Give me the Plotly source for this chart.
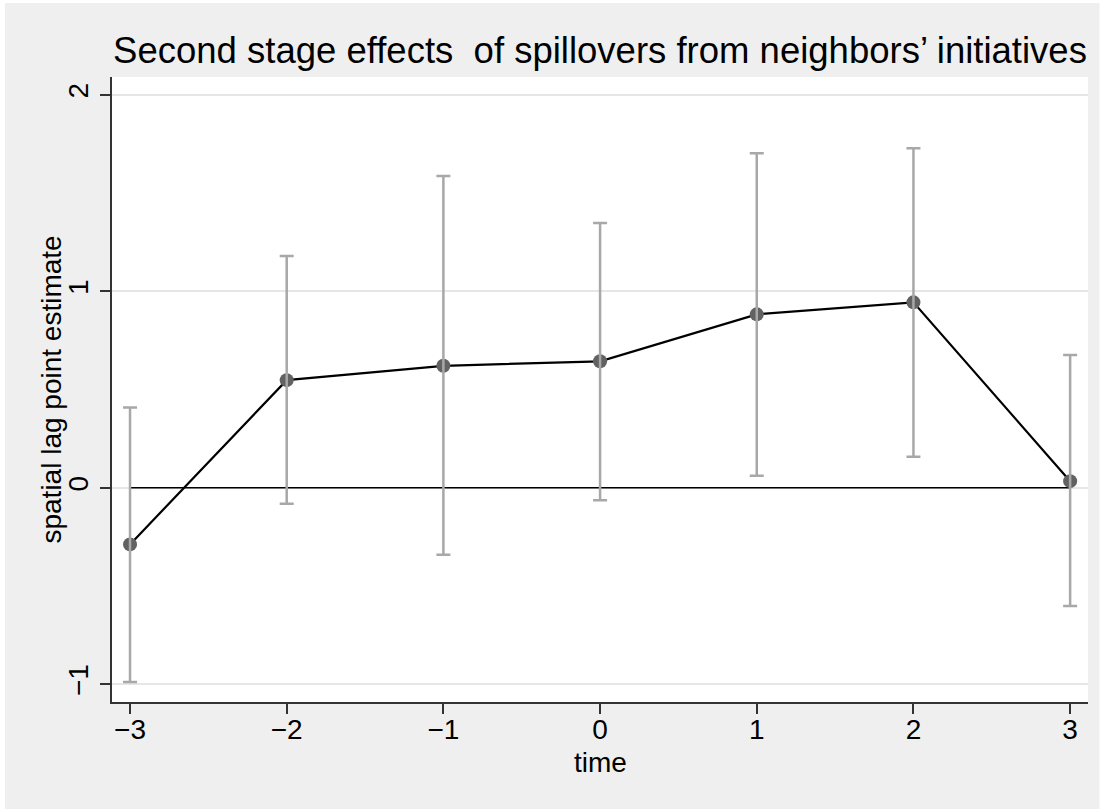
import plotly.graph_objects as go

time = [-3, -2, -1, 0, 1, 2, 3]
estimate = [-0.288, 0.548, 0.621, 0.644, 0.883, 0.944, 0.034]
ci_high = [0.409, 1.180, 1.587, 1.348, 1.703, 1.728, 0.676]
ci_low = [-0.988, -0.081, -0.341, -0.063, 0.061, 0.158, -0.602]
zero_line = [0, 0, 0, 0, 0, 0, 0]
x_ticks = [-3, -2, -1, 0, 1, 2, 3]
y_ticks = [-1, 0, 1, 2]

title_text = "Second stage effects  of spillovers from neighbors\u2019 initiatives"
x_title = "time"
y_title = "spatial lag point estimate"

err_plus = [h - e for h, e in zip(ci_high, estimate)]
err_minus = [e - l for e, l in zip(estimate, ci_low)]

FONT = "Liberation Sans, Arial, Helvetica, sans-serif"
PLOT_L, PLOT_R, PLOT_T, PLOT_B = 112, 1088.5, 77, 701.7
PW, PH = PLOT_R - PLOT_L, PLOT_B - PLOT_T

fig = go.Figure()

# zero reference line
fig.add_trace(go.Scatter(x=time, y=zero_line, mode="lines",
                         line=dict(color="black", width=1.5),
                         hoverinfo="skip", showlegend=False))
# connecting line + markers
fig.add_trace(go.Scatter(x=time, y=estimate, mode="lines+markers",
                         line=dict(color="black", width=2.2),
                         marker=dict(color="#626262", size=14),
                         showlegend=False))
# confidence intervals on top
fig.add_trace(go.Scatter(x=time, y=estimate, mode="markers",
                         marker=dict(size=1, opacity=0),
                         error_y=dict(type="data", symmetric=False,
                                      array=err_plus, arrayminus=err_minus,
                                      color="#a8a8a8", thickness=2.5, width=7),
                         showlegend=False))

fig.update_layout(
    width=1109, height=809,
    margin=dict(l=PLOT_L, r=1109 - PLOT_R, t=PLOT_T, b=809 - PLOT_B),
    paper_bgcolor="white",
    plot_bgcolor="white",
    font=dict(family=FONT, color="black", size=28),
    title=dict(text=title_text, x=0.5, xref="paper", y=1 - 50 / 809,
               yref="container", xanchor="center", yanchor="middle",
               font=dict(size=36.5, family=FONT, color="black")),
    shapes=[
        dict(type="rect", xref="paper", yref="paper",
             x0=(5 - PLOT_L) / PW, x1=(1100 - PLOT_L) / PW,
             y0=(PLOT_B - 809) / PH, y1=(PLOT_B - 3) / PH,
             fillcolor="#efefef", line=dict(width=0), layer="below"),
        dict(type="rect", xref="paper", yref="paper",
             x0=0, x1=1, y0=0, y1=1,
             fillcolor="white", line=dict(width=0), layer="below"),
    ],
    annotations=[
        dict(text=y_title, xref="paper", yref="paper",
             x=(51 - PLOT_L) / PW, y=0.5, xanchor="center", yanchor="middle",
             textangle=-90, showarrow=False,
             font=dict(size=28, family=FONT, color="black")),
        dict(text=x_title, xref="paper", yref="paper",
             x=0.5, y=(PLOT_B - 762) / PH, xanchor="center", yanchor="middle",
             showarrow=False,
             font=dict(size=28, family=FONT, color="black")),
    ],
)

fig.update_xaxes(
    range=[-3.115, 3.114], tickvals=x_ticks,
    showgrid=False, zeroline=False,
    showline=True, linecolor="#333333", linewidth=1.8,
    ticks="outside", ticklen=10, tickwidth=1.5, tickcolor="#333333",
    ticklabelstandoff=-9,
    tickfont=dict(size=28, family=FONT, color="black"),
)
fig.update_yaxes(
    range=[-1.09, 2.091], tickvals=y_ticks, tickangle=-90,
    showgrid=True, gridcolor="#e6e6e6", gridwidth=2,
    zeroline=False,
    showline=True, linecolor="#333333", linewidth=1.8,
    ticks="outside", ticklen=10, tickwidth=1.5, tickcolor="#333333",
    ticklabelstandoff=1,
    tickfont=dict(size=28, family=FONT, color="black"),
)

fig.write_html("out.html", config={"displayModeBar": False},
               post_script="document.body.style.margin='0px';")
